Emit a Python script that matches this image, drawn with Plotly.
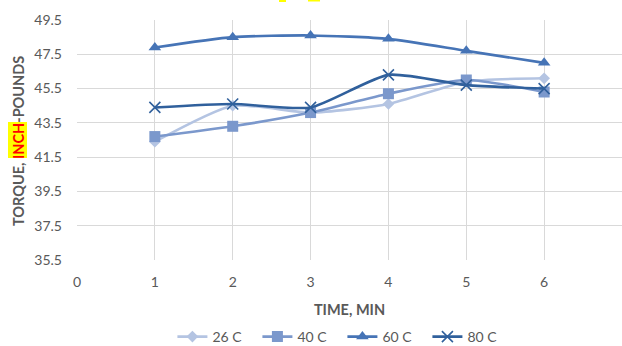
import plotly.graph_objects as go

time_min = [1, 2, 3, 4, 5, 6]
series_names = ["26 C", "40 C", "60 C", "80 C"]
torque_26 = [42.4, 44.5, 44.1, 44.6, 45.9, 46.1]
torque_40 = [42.7, 43.3, 44.1, 45.2, 46.0, 45.3]
torque_60 = [47.9, 48.5, 48.6, 48.4, 47.7, 47.0]
torque_80 = [44.4, 44.6, 44.4, 46.3, 45.7, 45.5]
y_ticks = [35.5, 37.5, 39.5, 41.5, 43.5, 45.5, 47.5, 49.5]
x_ticks = [0, 1, 2, 3, 4, 5, 6, 7]

colors = ["#B4C4E2", "#7B98CC", "#4674B6", "#30609C"]
symbols = ["diamond", "square", "triangle-up", "x-thin"]
sizes = [9, 11, 11, 11]
data = [torque_26, torque_40, torque_60, torque_80]

FONT = "Lato, Open Sans, sans-serif"
fig = go.Figure()
for name, ys, c, s, sz in zip(series_names, data, colors, symbols, sizes):
    marker = dict(symbol=s, size=sz, color=c)
    if s == "x-thin":
        marker["line"] = dict(color=c, width=1.6)
    fig.add_trace(go.Scatter(
        x=time_min, y=ys, name=name, mode="lines+markers",
        line=dict(color=c, width=2.6, shape="spline", smoothing=0.6),
        marker=marker,
    ))

fig.update_layout(
    width=622, height=346,
    margin=dict(l=77, r=0, t=20, b=86, autoexpand=False),
    paper_bgcolor="white", plot_bgcolor="white",
    font=dict(family=FONT, color="#595959", size=14),
    showlegend=True,
    legend=dict(orientation="h", x=0.487, xanchor="center", y=(260 - 337) / 240,
                yanchor="middle", font=dict(size=14, color="#595959"),
                entrywidth=40, entrywidthmode="pixels", traceorder="normal"),
    xaxis=dict(range=[0, 7], tickvals=x_ticks, showgrid=True, gridcolor="#D9D9D9",
               gridwidth=1, zeroline=False, showline=False, ticks="",
               ticklabelstandoff=12, tickfont=dict(size=14),
               title=dict(text="<b>TIME, MIN</b>", font=dict(size=14.5, color="#595959"),
                          standoff=15)),
    yaxis=dict(range=[35.5, 49.5], tickvals=y_ticks, tickformat=".1f",
               showgrid=True, gridcolor="#D9D9D9", gridwidth=1, zeroline=False,
               showline=False, ticks="", ticklabelstandoff=14, tickfont=dict(size=14)),
)

# highlight boxes (y title "INCH" and truncated title remnants at top)
fig.add_shape(type="rect", xref="paper", yref="paper",
              x0=(8 - 77) / 545, x1=(27 - 77) / 545, y0=(260 - 158) / 240, y1=(260 - 122) / 240,
              fillcolor="#FFFF00", line_width=0, layer="above")
fig.add_shape(type="rect", xref="paper", yref="paper",
              x0=(279 - 77) / 545, x1=(286 - 77) / 545, y0=(260 - 2) / 240, y1=(260 + 20) / 240,
              fillcolor="#FFFF00", line_width=0, layer="above")
fig.add_shape(type="rect", xref="paper", yref="paper",
              x0=(308 - 77) / 545, x1=(320 - 77) / 545, y0=(260 - 1.5) / 240, y1=(260 + 20) / 240,
              fillcolor="#FFFF00", line_width=0, layer="above")
fig.add_annotation(
    xref="paper", yref="paper", x=(18 - 77) / 545, y=(260 - 141) / 240,
    text="<b>TORQUE, <span style='color:#FF0000'>INCH</span>-POUNDS</b>",
    textangle=-90, showarrow=False, font=dict(size=14.5, color="#595959", family=FONT),
    xanchor="center", yanchor="middle",
)

fig.write_html("out.html")
